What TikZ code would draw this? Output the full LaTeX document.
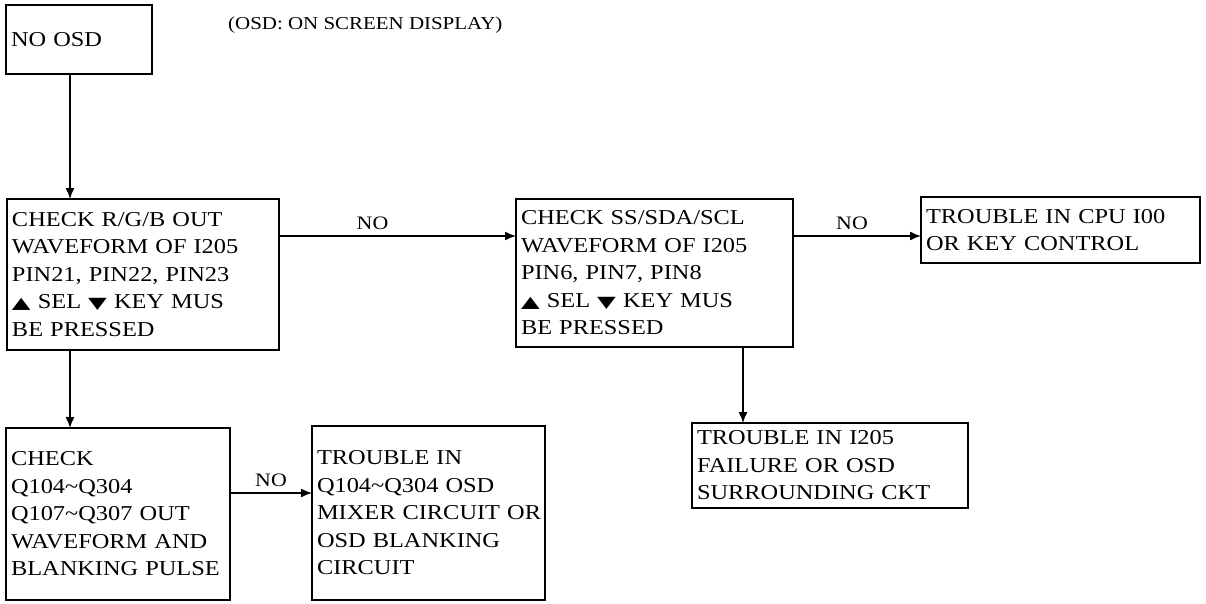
\documentclass[tikz,border=0pt]{standalone}
\usepackage{fontspec}
\usepackage{graphicx}
\setmainfont{Liberation Serif}[FakeStretch=1.15]
\newfontfamily\symfont{DejaVu Sans}
\usetikzlibrary{arrows.meta}
\newcommand{\upt}{{\symfont\scalebox{1.15}[0.75]{▲}}}
\newcommand{\dnt}{{\symfont\scalebox{1.15}[0.75]{▼}}}
\tikzset{
  box/.style={draw, line width=1.5pt, anchor=north west, align=left, inner xsep=5pt, inner ysep=0pt, outer sep=0pt,
    font={\fontsize{21.2}{27.5}\selectfont}},
  arr/.style={line width=1.4pt, -{Latex[length=11pt,width=9pt]}},
  lbl/.style={font={\fontsize{19}{24}\selectfont}, inner sep=0pt},
  ttl/.style={font={\fontsize{18.2}{24}\selectfont}, inner sep=0pt}
}
\begin{document}
\begin{tikzpicture}[x=1pt,y=1pt]
\useasboundingbox (0,0) rectangle (1206,-603);
\node[box, text width=136pt, minimum height=69pt] (A) at (6,-5) {NO OSD};
\node[ttl, anchor=west] (T) at (228,-25) {(OSD: ON SCREEN DISPLAY)};
\node[box, text width=262pt, minimum height=151pt] (B) at (7,-199) {CHECK R/G/B OUT\\WAVEFORM OF I205\\PIN21, PIN22, PIN23\\\upt{} SEL \dnt{} KEY MUS\\BE PRESSED};
\node[box, text width=267pt, minimum height=148pt] (C) at (516,-199) {CHECK SS/SDA/SCL\\WAVEFORM OF I205\\PIN6, PIN7, PIN8\\\upt{} SEL \dnt{} KEY MUS\\BE PRESSED};
\node[box, text width=269pt, minimum height=66pt] (D) at (921,-197) {TROUBLE IN CPU I00\\OR KEY CONTROL};
\node[box, text width=266pt, minimum height=85pt] (E) at (692,-423) {TROUBLE IN I205\\FAILURE OR OSD\\SURROUNDING CKT};
\node[box, text width=214pt, minimum height=172pt] (F) at (6,-428) {CHECK\\Q104\textasciitilde Q304\\Q107\textasciitilde Q307 OUT\\WAVEFORM AND\\\mbox{BLANKING PULSE}};
\node[box, text width=223pt, minimum height=174pt] (G) at (312,-426) {TROUBLE IN\\Q104\textasciitilde Q304 OSD\\\mbox{MIXER CIRCUIT OR}\\OSD BLANKING\\CIRCUIT};
\draw[arr] ([xshift=64pt]A.south west) -- ([xshift=63pt]B.north west);
\draw[arr] ([xshift=63pt]B.south west) -- ([xshift=64pt]F.north west);
\draw[arr] ([yshift=-37pt]B.north east) -- node[lbl, above=6pt, xshift=-25pt] {NO} ([yshift=-37pt]C.north west);
\draw[arr] ([yshift=-37pt]C.north east) -- node[lbl, above=6pt, xshift=-5pt] {NO} ([yshift=-39pt]D.north west);
\draw[arr] ([xshift=227pt]C.south west) -- ([xshift=51pt]E.north west);
\draw[arr] ([yshift=-65pt]F.north east) -- node[lbl, above=6pt] {NO} ([yshift=-67pt]G.north west);
\end{tikzpicture}
\end{document}
